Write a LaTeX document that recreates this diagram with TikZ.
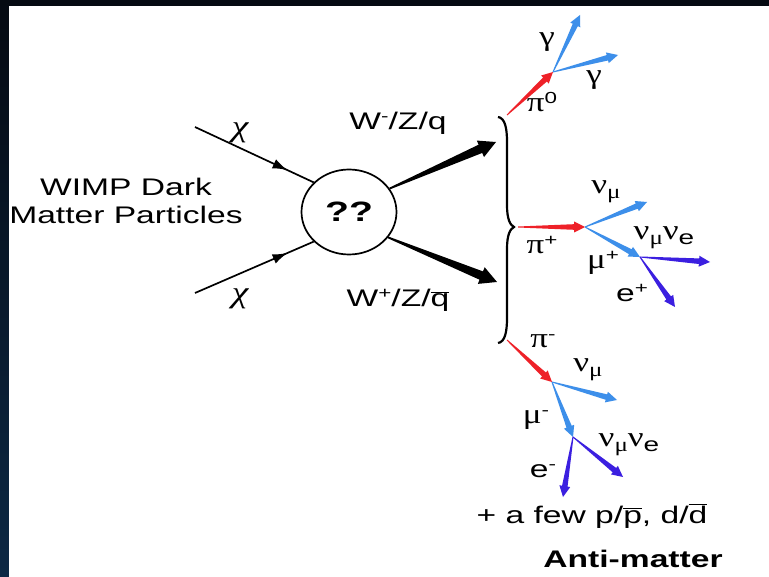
\documentclass[tikz,border=0pt]{standalone}
\usepackage{fontspec}
\setmainfont{Liberation Sans}[FakeStretch=1.4]
\newfontfamily\grk{Liberation Serif}[FakeStretch=1.25]
\usepackage{xcolor}
\usetikzlibrary{arrows.meta,calc,decorations.markings,shapes.geometric}

\definecolor{pired}{HTML}{EE2128}
\definecolor{nublue}{HTML}{3D8FEA}
\definecolor{lepviolet}{HTML}{3B1FE0}
\definecolor{bgtop}{HTML}{050A12}
\definecolor{bgbot}{HTML}{0C2844}

\newcommand\supr[1]{\raisebox{8pt}{\fontsize{16}{16}\selectfont #1}}
\newcommand\subr[1]{\raisebox{-5pt}{\fontsize{20}{20}\selectfont #1}}
\newcommand\anti[1]{$\overline{\hbox{#1}}$}
% tapered arrow: colour, from, to, start half width, body half width, head half width, head length
\newcommand\tarrow[7]{%
  \coordinate (tb) at ($(#3)!#7!(#2)$);
  \fill[#1] ($(#2)!#4!90:(#3)$) -- ($(tb)!#5!-90:(#2)$) -- ($(tb)!#6!-90:(#2)$) -- (#3)
    -- ($(tb)!#6!90:(#2)$) -- ($(tb)!#5!90:(#2)$) -- ($(#2)!#4!-90:(#3)$) -- cycle;}
\newcommand\decay[3]{\tarrow{#1}{#2}{#3}{0.5pt}{2.8pt}{5.5pt}{11pt}}

\begin{document}
\begin{tikzpicture}[x=1pt, y=-1pt,
        lbl/.style={font=\fontsize{24}{28}\selectfont, inner sep=0pt},
        gklbl/.style={font=\grk\fontsize{28}{28}\selectfont, inner sep=0pt},
        chiline/.style={line width=1.7pt, postaction={decorate},
            decoration={markings, mark=at position 0.78 with {\arrow{Latex[length=15pt,width=10pt]}}}},
    ]
        % Frame
        \useasboundingbox (0,0) rectangle (769,577);
        \shade[top color=bgtop, bottom color=bgbot] (0,0) rectangle (769,577);
        \fill[white] (9,6) rectangle (769,577);

        % Annihilation
        \node[ellipse, draw, line width=1.7pt, minimum width=95, minimum height=85,
            font=\fontsize{28}{28}\selectfont\bfseries] (ann) at (349,212) {??};
        \node[lbl, align=center] (wimp) at (126,201) {WIMP Dark\\Matter Particles};

        % Incoming WIMPs
        \coordinate (chiA) at (195,127);
        \coordinate (chiB) at (195,293);
        \draw[chiline] (chiA) -- (ann.140);
        \draw[chiline] (chiB) -- (ann.220);
        \node[gklbl, font=\grk\itshape\fontsize{30}{30}\selectfont] (chiAl) at (240,133) {χ};
        \node[gklbl, font=\grk\itshape\fontsize{30}{30}\selectfont] (chiBl) at (240,299) {χ};

        % Outgoing bosons / quarks
        \coordinate (wtipA) at (496,142);
        \coordinate (wtipB) at (497,282);
        \tarrow{black}{ann.30}{wtipA}{0.9pt}{4.5pt}{9pt}{17pt}
        \tarrow{black}{ann.-33}{wtipB}{0.9pt}{4.5pt}{9pt}{17pt}
        \node[lbl] (wmin) at (398,123) {W\supr{-}/Z/q};
        \node[lbl] (wplus) at (398,300) {W\supr{+}/Z/\anti{q}};

        \coordinate (brT) at (498,117);
        \coordinate (brM) at (514,227);
        \coordinate (brB) at (498,343);
        \draw[line width=2.2pt] (brT) .. controls (505,118) and (507,128) .. (507,142) -- (507,205)
            .. controls (507,219) and (510,225) .. (brM) .. controls (510,229) and (507,235) .. (507,249)
            -- (507,318) .. controls (507,332) and (505,342) .. (brB);

        % pi0 branch
        \coordinate (pzs) at (507,115);
        \coordinate (pzv) at (553,72);
        \coordinate (gaA) at (580,15);
        \coordinate (gaB) at (618,55);
        \decay{pired}{pzs}{pzv}
        \decay{nublue}{pzv}{gaA}
        \decay{nublue}{pzv}{gaB}
        \node[gklbl] (gaAl) at (547,42) {γ};
        \node[gklbl] (gaBl) at (594,80) {γ};
        \node[gklbl] (pzl) at (542,102) {π\supr{\rmfamily 0}};

        % pi+ branch
        \coordinate (pps) at (518,227);
        \coordinate (ppv) at (585,227);
        \coordinate (nupA) at (647,202);
        \coordinate (mupv) at (640,257);
        \coordinate (nupB) at (710,262);
        \coordinate (ep) at (675,307);
        \decay{pired}{pps}{ppv}
        \decay{nublue}{ppv}{nupA}
        \decay{nublue}{ppv}{mupv}
        \decay{lepviolet}{mupv}{nupB}
        \decay{lepviolet}{mupv}{ep}
        \node[gklbl] (nupAl) at (606,192) {ν\subr{μ}};
        \node[gklbl] (ppl) at (542,245) {π\supr{\rmfamily +}};
        \node[gklbl] (nupBl) at (664,238) {ν\subr{μ}ν\subr{\rmfamily e}};
        \node[gklbl] (mupl) at (603,263) {μ\supr{\rmfamily +}};
        \node[lbl] (epl) at (632,293) {e\supr{+}};

        % pi- branch
        \coordinate (pms) at (507,340);
        \coordinate (pmv) at (552,382);
        \coordinate (numA) at (617,400);
        \coordinate (mumv) at (573,437);
        \coordinate (numB) at (623,477);
        \coordinate (em) at (563,497);
        \decay{pired}{pms}{pmv}
        \decay{nublue}{pmv}{numA}
        \decay{nublue}{pmv}{mumv}
        \decay{lepviolet}{mumv}{numB}
        \decay{lepviolet}{mumv}{em}
        \node[gklbl] (pml) at (543,341) {π\supr{\rmfamily -}};
        \node[gklbl] (numAl) at (588,370) {ν\subr{μ}};
        \node[gklbl] (mlm) at (536,420) {μ\supr{\rmfamily -}};
        \node[gklbl] (numBl) at (629,445) {ν\subr{μ}ν\subr{\rmfamily e}};
        \node[lbl] (eml) at (543,471) {e\supr{-}};

        % Anti-matter note
        \node[lbl, anchor=base] (few) at (592,523) {+ a few p/\anti{p}, d/\anti{d}};
        \node[lbl, anchor=base, font=\fontsize{24}{28}\selectfont\bfseries] (anti) at (633,567) {Anti-matter};
    \end{tikzpicture}
\end{document}
